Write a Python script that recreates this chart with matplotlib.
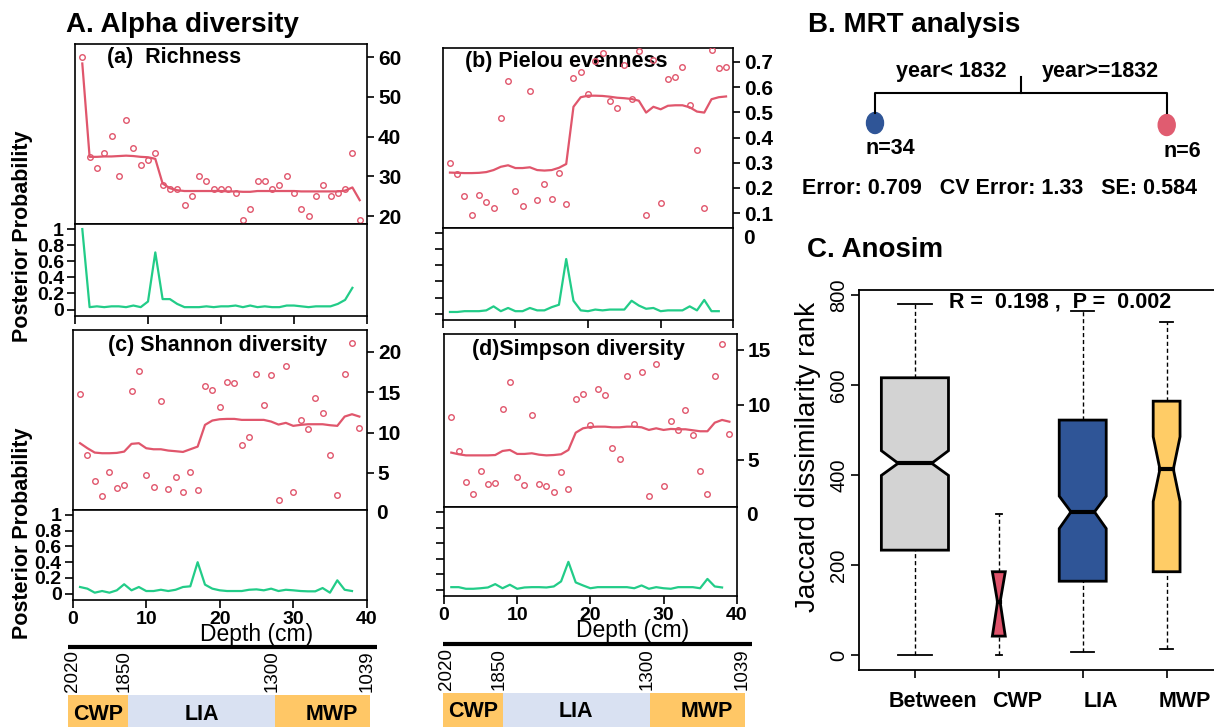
import matplotlib
matplotlib.use("Agg")
import matplotlib.pyplot as plt
from matplotlib.patches import Ellipse, Polygon
from matplotlib.transforms import ScaledTranslation, blended_transform_factory

plt.rcParams['font.family'] = ['Liberation Sans', 'DejaVu Sans']

W, H = 1214, 727
RED = '#E0566C'
GREEN = '#22CC88'

# ---- alpha diversity along the core (depth in cm) ----
depth = list(range(1, 40))

rich_obs = [60.0, 34.9, 32.0, 35.9, 40.1, 30.0, 44.1, 37.1, 32.9, 34.0, 35.9, 27.9, 26.9,
            26.9, 22.7, 25.1, 30.0, 28.8, 26.9, 26.9, 26.9, 25.8, 19.0, 21.9, 28.8, 28.8,
            26.9, 27.9, 30.0, 25.8, 21.9, 19.9, 25.1, 27.9, 25.1, 25.8, 26.9, 35.9, 19.0]
rich_mean = [58.4, 34.9, 34.9, 35.0, 35.0, 35.1, 35.2, 35.1, 34.9, 34.8, 34.4, 28.2, 27.0,
             26.5, 26.3, 26.3, 26.3, 26.3, 26.3, 26.3, 26.2, 26.2, 26.1, 26.1, 26.3, 26.3,
             26.3, 26.3, 26.3, 26.3, 26.2, 26.2, 26.2, 26.2, 26.2, 26.2, 26.4, 27.2, 24.0]
rich_prob = [1.0, 0.03, 0.04, 0.03, 0.04, 0.04, 0.03, 0.05, 0.03, 0.10, 0.71, 0.13, 0.13,
             0.07, 0.03, 0.03, 0.03, 0.04, 0.03, 0.04, 0.04, 0.05, 0.03, 0.05, 0.03, 0.04,
             0.03, 0.03, 0.05, 0.05, 0.04, 0.03, 0.04, 0.04, 0.04, 0.07, 0.12, 0.27]

even_obs = [0.298, 0.255, 0.168, 0.093, 0.172, 0.144, 0.119, 0.479, 0.623, 0.187, 0.130,
            0.585, 0.151, 0.214, 0.156, 0.259, 0.136, 0.638, 0.661, 0.574, 0.705, 0.734,
            0.545, 0.519, 0.688, 0.552, 0.743, 0.093, 0.708, 0.139, 0.631, 0.640, 0.680,
            0.529, 0.349, 0.119, 0.747, 0.677, 0.680]
even_mean = [0.261, 0.260, 0.259, 0.259, 0.260, 0.263, 0.271, 0.284, 0.290, 0.279, 0.279,
             0.282, 0.271, 0.269, 0.271, 0.280, 0.295, 0.522, 0.560, 0.566, 0.566, 0.565,
             0.562, 0.558, 0.556, 0.553, 0.546, 0.499, 0.522, 0.512, 0.526, 0.528, 0.528,
             0.520, 0.503, 0.499, 0.552, 0.560, 0.563]
even_prob = [0.02, 0.02, 0.03, 0.03, 0.03, 0.04, 0.09, 0.03, 0.07, 0.03, 0.03, 0.07, 0.04,
             0.04, 0.08, 0.11, 0.68, 0.16, 0.04, 0.03, 0.05, 0.04, 0.05, 0.05, 0.05, 0.16,
             0.10, 0.06, 0.07, 0.03, 0.04, 0.04, 0.04, 0.09, 0.04, 0.17, 0.03, 0.03]

shan_obs = [14.75, 7.23, 4.05, 2.15, 5.17, 3.18, 3.47, 15.12, 17.64, 4.79, 3.31, 13.93,
            3.02, 4.55, 2.69, 5.17, 2.89, 15.79, 15.21, 13.14, 16.24, 16.16, 8.43, 9.42,
            17.19, 13.43, 17.07, 1.69, 18.22, 2.64, 11.57, 10.50, 14.34, 12.40, 7.23, 2.27,
            17.19, 21.12, 10.54]
shan_mean = [8.68, 8.06, 7.52, 7.44, 7.44, 7.48, 7.64, 8.60, 8.68, 8.06, 7.93, 7.93, 7.77,
             7.69, 7.60, 7.93, 8.26, 10.95, 11.49, 11.65, 11.69, 11.69, 11.57, 11.57, 11.57,
             11.57, 11.36, 10.99, 11.20, 10.83, 10.95, 11.03, 11.03, 11.03, 10.91, 10.83,
             11.98, 12.27, 11.98]
shan_prob = [0.085, 0.064, 0.013, 0.034, 0.013, 0.043, 0.12, 0.043, 0.085, 0.034, 0.034,
             0.05, 0.034, 0.05, 0.085, 0.094, 0.40, 0.115, 0.064, 0.043, 0.034, 0.034, 0.034,
             0.05, 0.055, 0.043, 0.064, 0.034, 0.05, 0.043, 0.034, 0.03, 0.03, 0.072, 0.013,
             0.17, 0.05, 0.034]

simp_obs = [8.94, 5.82, 2.97, 1.91, 4.03, 2.82, 2.91, 9.67, 12.06, 3.48, 2.76, 9.06, 2.82,
            2.64, 2.06, 3.94, 2.36, 10.55, 11.03, 8.15, 11.45, 10.94, 6.06, 5.09, 12.61,
            8.27, 12.97, 1.73, 13.73, 2.64, 8.55, 7.70, 9.52, 7.24, 4.03, 1.94, 12.61, 15.58,
            7.33]
simp_mean = [5.67, 5.52, 5.42, 5.42, 5.42, 5.42, 5.45, 5.82, 5.91, 5.55, 5.55, 5.61, 5.48,
             5.42, 5.45, 5.52, 5.91, 7.48, 7.88, 8.00, 8.03, 8.03, 7.97, 7.97, 8.03, 8.03,
             7.97, 7.73, 7.88, 7.73, 7.82, 7.79, 7.79, 7.70, 7.61, 7.61, 8.39, 8.64, 8.48]
simp_prob = [0.034, 0.034, 0.013, 0.013, 0.02, 0.03, 0.073, 0.02, 0.065, 0.013, 0.03, 0.034,
             0.034, 0.03, 0.043, 0.108, 0.36, 0.095, 0.056, 0.02, 0.034, 0.034, 0.034, 0.034,
             0.034, 0.02, 0.056, 0.013, 0.034, 0.02, 0.013, 0.034, 0.034, 0.034, 0.02, 0.14,
             0.043, 0.03]

prob_ticks = [0, 0.2, 0.4, 0.6, 0.8, 1]
depth_ticks = [0, 10, 20, 30, 40]

# climate periods under the depth axis
years = ['2020', '1850', '1300', '1039']
year_depth = [0.5, 7.4, 27.0, 39.6]
period_names = ['CWP', 'LIA', 'MWP']
period_edges = [0, 7.9, 27.4, 40]
period_colors = ['#FFC766', '#D9E1F2', '#FFC766']

# ---- MRT ----
split_year = 1832
leaf_n = [34, 6]
mrt_error, mrt_cv_error, mrt_se = 0.709, 1.33, 0.584

# ---- ANOSIM (Jaccard dissimilarity ranks) ----
groups = ['Between', 'CWP', 'LIA', 'MWP']
whisk_lo = [0, 0, 6, 13]
q1 = [233, 42, 164, 185]
notch_lo = [399, 42, 281, 341]
median = [426, 118, 318, 413]
notch_hi = [454, 185, 353, 485]
q3 = [616, 185, 522, 564]
whisk_hi = [781, 313, 764, 739]
box_colors = ['#D3D3D3', '#DF536B', '#2F5597', '#FFCC66']
anosim_r, anosim_p = 0.198, 0.002

fig = plt.figure(figsize=(W / 100, H / 100), dpi=100)


def px_axes(l, t, r, b):
    return fig.add_axes([l / W, 1 - b / H, (r - l) / W, (b - t) / H])


def ftext(x, y, s, **kw):
    return fig.text(x / W, 1 - y / H, s, **kw)


panels = [
    dict(tag='(a)  Richness', obs=rich_obs, mean=rich_mean, prob=rich_prob,
         box=(75, 44, 367, 224, 316), ylim=(18, 63.3), yticks=[20, 30, 40, 50, 60],
         tag_xy=(106.7, 57.3), left_lab=True, x_lab=False, zero=False),
    dict(tag='(b) Pielou evenness', obs=even_obs, mean=even_mean, prob=even_prob,
         box=(442.7, 48.3, 733.3, 228.3, 320), ylim=(0.04, 0.754),
         yticks=[0.1, 0.2, 0.3, 0.4, 0.5, 0.6, 0.7],
         tag_xy=(465, 62), left_lab=False, x_lab=False, zero=True),
    dict(tag='(c) Shannon diversity', obs=shan_obs, mean=shan_mean, prob=shan_prob,
         box=(72.7, 330, 366.7, 510, 600), ylim=(0.41, 22.7), yticks=[5, 10, 15, 20],
         tag_xy=(108, 345), left_lab=True, x_lab=True, zero=True),
    dict(tag='(d)Simpson diversity', obs=simp_obs, mean=simp_mean, prob=simp_prob,
         box=(444, 334, 736.7, 507.3, 596), ylim=(0.70, 16.45), yticks=[5, 10, 15],
         tag_xy=(471.7, 350), left_lab=False, x_lab=True, zero=True),
]

for p in panels:
    l, t, r, mid, b = p['box']
    up = px_axes(l, t, r, mid)
    lo = px_axes(l, mid, r, b)
    for ax in (up, lo):
        ax.set_xlim(0, 40)
        for s in ax.spines.values():
            s.set_linewidth(1.2)

    up.plot(depth, p['obs'], 'o', mfc='none', mec=RED, ms=4, mew=1, zorder=3)
    up.plot(depth, p['mean'], color=RED, lw=1.6, zorder=3)
    up.set_ylim(*p['ylim'])
    up.set_xticks([])
    up.yaxis.tick_right()
    up.set_yticks(p['yticks'], [f'{v:g}' for v in p['yticks']],
                  fontsize=15, fontweight='bold')
    up.tick_params(axis='y', length=5, width=1.2, pad=3)
    up.text(p['tag_xy'][0] / W, 1 - p['tag_xy'][1] / H, p['tag'], transform=fig.transFigure,
            fontsize=15.5, fontweight='bold', ha='left', va='center', zorder=1)
    if p['zero']:
        tr = blended_transform_factory(up.transAxes, up.transData)
        up.text(1.0, 0, '0', transform=tr + ScaledTranslation(9.5 / 100, 0, fig.dpi_scale_trans),
                fontsize=15, fontweight='bold', ha='left', va='center', clip_on=False)

    lo.plot(depth[:-1], p['prob'], color=GREEN, lw=1.6)
    lo.set_ylim(-0.08, 1.063)
    if p['left_lab']:
        lo.set_yticks(prob_ticks, [f'{v:g}' for v in prob_ticks],
                      fontsize=14, fontweight='bold')
    else:
        lo.set_yticks(prob_ticks, [])
    lo.tick_params(axis='y', length=6, width=1.2, pad=2)
    if p['x_lab']:
        lo.set_xticks(depth_ticks, [str(v) for v in depth_ticks],
                      fontsize=14, fontweight='bold')
    else:
        lo.set_xticks(depth_ticks, [])
    lo.tick_params(axis='x', length=6, width=1.2, pad=2)

ftext(65.7, 25, 'A. Alpha diversity', fontsize=20, fontweight='bold', va='center')
for yc in (236, 533):
    ftext(23, yc, 'Posterior Probability', fontsize=15.5, fontweight='bold',
          rotation=90, ha='center', va='center')
ftext(257, 634, 'Depth (cm)', fontsize=16.5, ha='center', va='center')
ftext(633, 630, 'Depth (cm)', fontsize=16.5, ha='center', va='center')

# period bars below each depth axis (y in pixels from the bar axes top)
for l, r, line_y, year_top, band_top, text_y in [(68.3, 370, 6.7, 10, 55, 75),
                                                  (443, 745, 4, 8, 52.7, 71.7)]:
    tl = px_axes(l, 640, r, 727)
    tl.set_xlim(0, 40)
    tl.set_ylim(87, 0)
    tl.axis('off')
    tl.plot([period_edges[0], 40.9], [line_y, line_y], color='black', lw=3,
            solid_capstyle='butt', clip_on=False)
    for yr, d in zip(years, year_depth):
        tl.text(d, year_top, yr, rotation=90, ha='center', va='top', fontsize=13.5)
    for i, name in enumerate(period_names):
        x0, x1 = period_edges[i], period_edges[i + 1]
        tl.barh(band_top, x1 - x0, left=x0, height=90, align='edge',
                color=period_colors[i], lw=0)
        xc = (x0 + x1) / 2 + (1.3 if name == 'MWP' else 0)
        tl.text(xc, text_y, name, ha='center', va='center', fontsize=15.5,
                fontweight='bold')

# ---- B. MRT tree ----
mt = px_axes(780, 0, 1214, 240)
mt.set_xlim(780, 1214)
mt.set_ylim(240, 0)
mt.axis('off')
ftext(808, 25, 'B. MRT analysis', fontsize=20, fontweight='bold', va='center')
mt.plot([1020.7, 1020.7], [77, 93], color='black', lw=1.5)
mt.plot([875, 875, 1166.7, 1166.7], [113, 93, 93, 113], color='black', lw=1.5)
mt.add_patch(Ellipse((875, 123), 17, 21, color='#2F5597'))
mt.add_patch(Ellipse((1166.7, 125), 17, 21, color='#E05C70'))
mt.text(951.7, 71.7, f'year< {split_year}', ha='center', va='center',
        fontsize=15.5, fontweight='bold')
mt.text(1100, 71.7, f'year>={split_year}', ha='center', va='center',
        fontsize=15.5, fontweight='bold')
mt.text(890, 148, f'n={leaf_n[0]}', ha='center', va='center', fontsize=15.5,
        fontweight='bold')
mt.text(1182.7, 151.7, f'n={leaf_n[1]}', ha='center', va='center', fontsize=15.5,
        fontweight='bold')
mt.text(1000, 188, f'Error: {mrt_error}   CV Error: {mrt_cv_error}   SE: {mrt_se}',
        ha='center', va='center', fontsize=15.5, fontweight='bold')

# ---- C. ANOSIM notched boxplot ----
ftext(806.7, 250, 'C. Anosim', fontsize=20, fontweight='bold', va='center')
bx = px_axes(859.3, 290, 1240, 670)
bx.set_xlim(0.337, 0.337 + 380.7 / 83.9)
bx.set_ylim(-33.3, 811)
half_w = [0.40, 0.077, 0.28, 0.16]
waist = [0.5, 0.2, 0.5, 0.5]
for i in range(len(groups)):
    x = i + 1
    w = half_w[i]
    wi = w * waist[i]
    verts = [(x - w, q1[i]), (x - w, notch_lo[i]), (x - wi, median[i]), (x - w, notch_hi[i]),
             (x - w, q3[i]), (x + w, q3[i]), (x + w, notch_hi[i]), (x + wi, median[i]),
             (x + w, notch_lo[i]), (x + w, q1[i])]
    bx.add_patch(Polygon(verts, closed=True, fc=box_colors[i], ec='black', lw=2,
                         joinstyle='miter', zorder=3))
    bx.plot([x - wi, x + wi], [median[i], median[i]], color='black', lw=3, zorder=4)
    bx.plot([x, x], [q3[i], whisk_hi[i]], color='black', lw=1, dashes=(3, 2), zorder=2)
    bx.plot([x, x], [whisk_lo[i], q1[i]], color='black', lw=1, dashes=(3, 2), zorder=2)
    cap = w * 0.5
    bx.plot([x - cap, x + cap], [whisk_hi[i], whisk_hi[i]], color='black', lw=1.3)
    bx.plot([x - cap, x + cap], [whisk_lo[i], whisk_lo[i]], color='black', lw=1.3)

for s in bx.spines.values():
    s.set_linewidth(1.3)
yt = [0, 200, 400, 600, 800]
bx.set_yticks(yt, [str(v) for v in yt], rotation=90, va='center', fontsize=14.5)
bx.tick_params(axis='y', length=6, width=1.2, pad=2)
bx.set_xticks(range(1, len(groups) + 1), groups, fontsize=15.5, fontweight='bold')
bx.tick_params(axis='x', length=6, width=1.2, pad=9)
for lbl in bx.get_xticklabels():
    lbl.set_transform(lbl.get_transform() + ScaledTranslation(0.18, 0, fig.dpi_scale_trans))
ftext(808, 457, 'Jaccard dissimilarity rank', fontsize=20, rotation=90,
      ha='center', va='center')
ftext(1060, 301.7, f'R =  {anosim_r} ,  P =  {anosim_p}', fontsize=15.5,
      fontweight='bold', ha='center', va='center')

fig.savefig('out.png', dpi=100)
